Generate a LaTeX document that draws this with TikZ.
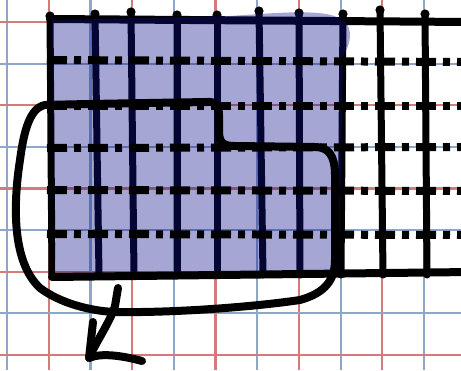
\documentclass[tikz,border=0pt]{standalone}
\definecolor{gridblue}{RGB}{142,166,200}
\definecolor{gridred}{RGB}{212,122,122}
\definecolor{shadeblue}{RGB}{14,14,139}
\tikzset{
  paperline/.style={line width=2.2},
  stroke/.style={black, line width=8, line cap=round, line join=round},
  dashdot/.style={black, line width=8, line cap=butt, dash pattern=on 20 off 7 on 7 off 7},
  shaded/.style={fill=shadeblue, fill opacity=0.37}
}
\begin{document}
\begin{tikzpicture}[x=1pt, y=-1pt]
                \clip (0,0) rectangle (461,370);
                \fill[white] (0,0) rectangle (461,370);

                % Draw the squared paper
                \foreach \i in {0,...,10} {
                    \ifodd\i \def\gc{gridred}\else\def\gc{gridblue}\fi
                    \draw[paperline, \gc] ({7+41.7*\i},0) -- ({7+41.7*\i},370);
                }
                \foreach \j in {0,...,8} {
                    \ifodd\j \def\gc{gridblue}\else\def\gc{gridred}\fi
                    \draw[paperline, \gc] (0,{22+41.6*\j}) -- (461,{22+41.6*\j});
                }

                % Top edge and vertical strokes (under the shading)
                \draw[stroke] (50,19) -- (470,22);
                \foreach \xt/\yt/\xb in {50/16/52, 95/14/99, 131/12/134, 177/15/177, 217/15/217,
                                         259/11/263, 299/13/300, 343/14/341, 380/10/383, 425/14/427} {
                    \draw[stroke, line width=7] (\xt,\yt) -- (\xb,275);
                    \fill (\xt,\yt) circle (4.6);
                }

                % Shaded part
                \fill[shaded] (52,20) -- (230,16) .. controls (300,11) and (335,9) .. (347,24)
                    .. controls (353,34) and (349,47) .. (343,56) -- (339,272) -- (56,274)
                    -- (53,100) -- cycle;

                % Dash-dot rows and bottom edge
                \foreach \yl/\yr in {60/62, 106/106, 148/147, 190/191, 234/235}
                    \draw[dashdot] (47,\yl) -- (470,\yr);
                \draw[stroke] (52,277) -- (470,272);

                % Loop round the selection
                \draw[stroke] (45,105) .. controls (30,108) and (24,130) .. (20,160)
                    .. controls (13,205) and (12,262) .. (40,288)
                    .. controls (60,303) and (90,311) .. (115,312)
                    .. controls (180,313) and (260,306) .. (300,300)
                    .. controls (325,293) and (335,280) .. (335,260)
                    -- (335,175) .. controls (335,155) and (328,147) .. (315,147)
                    -- (235,146) .. controls (222,146) and (219,142) .. (219,130)
                    -- (219,115) .. controls (219,106) and (215,101) .. (207,102)
                    .. controls (150,103) and (80,104) .. (45,105);

                % Arrow
                \draw[stroke] (118,288) -- (115,306) .. controls (110,322) and (96,342) .. (89,358);
                \draw[stroke] (93,322) -- (89,358) .. controls (100,353) and (120,355) .. (142,361);
            \end{tikzpicture}
\end{document}
